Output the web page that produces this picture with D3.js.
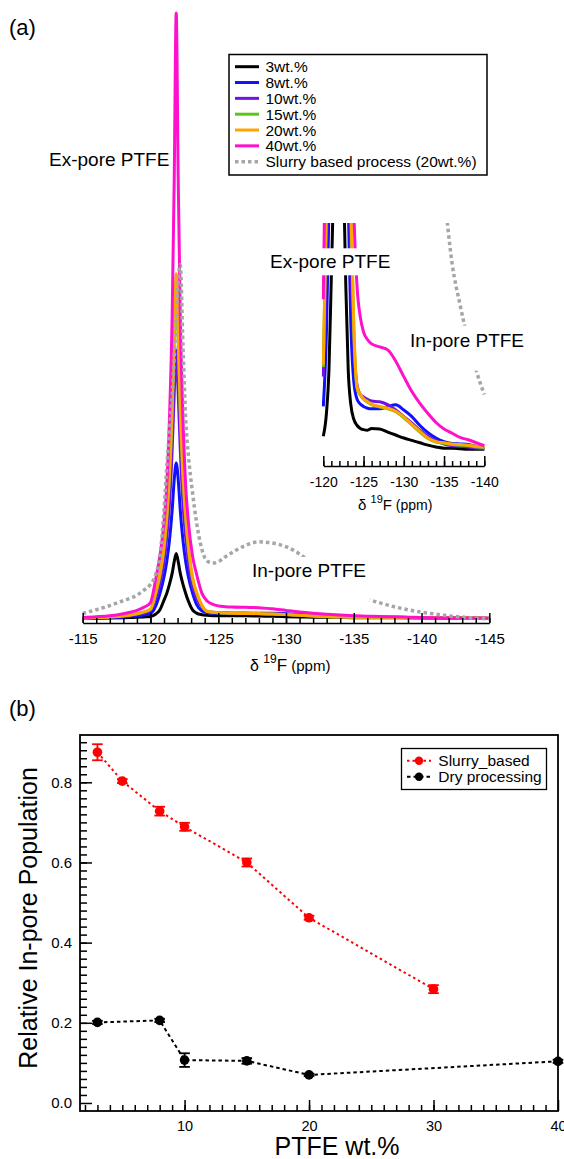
<!DOCTYPE html>
<html><head><meta charset="utf-8">
<script src="https://cdn.jsdelivr.net/npm/d3@7"></script>
<style>
html,body{margin:0;padding:0;background:#fff;}
svg{display:block;font-family:"Liberation Sans",Arial,Helvetica,sans-serif;}
</style></head><body>
<svg id="fig" width="564" height="1159"></svg>
<script>
// ---------- (a) 19F MAS NMR spectra ----------
const shift = [-115,-116,-117,-118,-118.5,-119,-119.5,-120,-120.4,-120.7,-121,-121.2,-121.4,-121.6,-121.75,-121.9,
  -122.05,-122.2,-122.4,-122.6,-122.8,-123.1,-123.4,-123.8,-124.2,-124.6,-125,-125.5,-126,-127,-128,-129,-130,
  -131,-132,-133,-134,-135,-136,-137,-138,-139,-140,-141,-142,-143,-144,-145];

const wt3  = [0.2,0.22,0.25,0.3,0.33,0.37,0.43,0.5,0.9,1.6,3.2,4.3,5.8,7.6,9.5,10.9,
  9.5,7.6,5.8,4.3,3.0,1.6,1.05,0.78,0.68,0.63,0.61,0.6,0.63,0.62,0.57,0.52,0.47,
  0.43,0.39,0.35,0.32,0.3,0.3,0.29,0.28,0.28,0.28,0.25,0.22,0.2,0.18,0.17];
const wt8  = [0.2,0.25,0.3,0.4,0.5,0.6,0.75,1.0,2.3,4.3,7.0,9.5,13,18,23,25.8,
  23,18,13,9.5,7.0,4.4,2.5,1.4,1.12,1.04,1.0,0.97,0.96,0.96,1.0,1.03,0.94,
  0.83,0.68,0.56,0.47,0.41,0.38,0.37,0.36,0.33,0.3,0.27,0.25,0.22,0.2,0.18];
const wt10 = [0.25,0.3,0.38,0.5,0.65,0.8,1.05,1.5,3.6,6.0,9.5,13.5,19,28,37,44.4,
  37,28,19,13.5,9.5,5.5,3.6,2.0,1.35,1.2,1.16,1.12,1.09,1.08,1.03,0.94,0.83,
  0.72,0.6,0.5,0.42,0.37,0.34,0.33,0.32,0.3,0.28,0.26,0.24,0.22,0.2,0.2];
const wt15 = [0.25,0.31,0.41,0.58,0.73,0.93,1.22,1.66,4.4,7.3,11.7,16.6,23.4,34,45.6,55.3,
  45.6,34,23.4,16.6,11.7,6.8,4.4,2.25,1.3,1.19,1.12,1.07,1.03,0.99,0.96,0.91,0.81,
  0.69,0.57,0.46,0.4,0.38,0.36,0.35,0.34,0.32,0.31,0.29,0.27,0.25,0.23,0.22];
const wt20 = [0.25,0.32,0.42,0.6,0.75,0.95,1.25,1.7,4.5,7.5,12,17,24,35,47,57,
  47,35,24,17,12,7,4.5,2.3,1.32,1.2,1.13,1.08,1.04,1.0,0.97,0.92,0.82,
  0.7,0.58,0.47,0.41,0.39,0.37,0.36,0.35,0.33,0.32,0.3,0.27,0.25,0.23,0.22];
const wt40 = [0.35,0.45,0.6,0.95,1.2,1.5,2.0,2.8,6.8,10.5,16,22,33,50,72,100,
  72,50,33,22,16,10.5,7.5,4.3,3.0,2.5,2.25,2.12,2.05,2.0,1.95,1.76,1.5,
  1.25,1.05,0.88,0.73,0.62,0.55,0.48,0.44,0.39,0.34,0.3,0.27,0.25,0.23,0.22];
const slurry20 = [1.0,1.6,2.3,3.1,3.5,4.0,4.8,5.8,7.5,10.5,18,25,31,37,43,50,
  56,58.5,45,33,27,21,16,11.5,9.6,9.3,9.5,10.3,11.0,12.2,12.8,12.6,12.0,
  10.8,9.0,7.3,5.8,4.6,3.4,2.7,2.1,1.6,1.2,0.9,0.6,0.4,0.2,0.1];

const spectraNames = ["3wt.%","8wt.%","10wt.%","15wt.%","20wt.%","40wt.%","Slurry based process (20wt.%)"];
const spectraValues = [wt3, wt8, wt10, wt15, wt20, wt40, slurry20];
const spectraColors = ["#000000","#1010ff","#7014e6","#5ec41a","#ffa500","#ff10cc","#a6a6a6"];

const mainTicks = [-115,-120,-125,-130,-135,-140,-145];
const insetTicks = [-120,-125,-130,-135,-140];

// ---------- (b) relative in-pore population ----------
const wtSlurry  = [3,5,8,10,15,20,30];
const popSlurry = [0.875,0.803,0.728,0.689,0.600,0.462,0.284];
const errSlurry = [0.020,0.005,0.011,0.010,0.010,0.005,0.010];
const wtDry  = [3,8,10,15,20,40];
const popDry = [0.201,0.206,0.107,0.105,0.070,0.104];
const errDry = [0.004,0.004,0.017,0.007,0.003,0.004];
const xTicksB = [10,20,30,40];
const yTicksB = [0.0,0.2,0.4,0.6,0.8];

const svg = d3.select("#fig");
const font = '"Liberation Sans",Arial,Helvetica,sans-serif';
const plainInt = d => String(d);   // hyphen-minus, as in the original labels

// label with an opaque background box
function boxedLabel(g, x, y, txt, size, padL, padT, padR, padB) {
  const grp = g.append("g");
  const t = grp.append("text").attr("x", x).attr("y", y).attr("font-size", size).text(txt);
  const bb = t.node().getBBox();
  grp.insert("rect", "text").attr("x", bb.x - padL).attr("y", bb.y - padT)
    .attr("width", bb.width + padL + padR).attr("height", bb.height + padT + padB).attr("fill", "#fff");
  return grp;
}

// ================= panel (a) =================
const xa = d3.scaleLinear().domain([-115, -145]).range([82.7, 489.3]);
const ya = d3.scaleLinear().domain([0, 100]).range([619.5, 13]);
const axisY = 623;

const gA = svg.append("g");
const lineA = d3.line().x(d => xa(d[0])).y(d => ya(d[1])).curve(d3.curveMonotoneX);

spectraValues.forEach((vals, i) => {
  const pts = shift.map((s, k) => [s, vals[k]]);
  const p = gA.append("path").datum(pts).attr("d", lineA)
    .attr("fill", "none").attr("stroke", spectraColors[i])
    .attr("stroke-width", i === 6 ? 3.5 : 3).attr("stroke-linejoin", "round");
  if (i === 6) p.attr("stroke-dasharray", "3.5,3");
});

// main x axis (ticks point up into the plot)
const minorA = d3.range(-115, -146, -1);
gA.append("g").attr("transform", `translate(0,${axisY})`)
  .call(d3.axisBottom(xa).tickValues(minorA).tickSize(-5).tickSizeOuter(0).tickFormat(""))
  .call(g => g.selectAll("line").attr("stroke-width", 1.5))
  .call(g => g.select(".domain").attr("stroke-width", 1.5));
gA.append("g").attr("transform", `translate(0,${axisY})`)
  .call(d3.axisBottom(xa).tickValues(mainTicks).tickSize(-10).tickSizeOuter(0).tickPadding(10).tickFormat(plainInt))
  .call(g => g.select(".domain").remove())
  .call(g => g.selectAll("line").attr("stroke-width", 1.5))
  .call(g => g.selectAll("text").attr("font-size", 15).attr("font-family", font).attr("fill", "#000"));

const titleA = gA.append("text").attr("x", 250).attr("y", 671).attr("font-size", 16);
titleA.append("tspan").text("δ ");
titleA.append("tspan").attr("font-size", 12).attr("dy", -8).text("19");
titleA.append("tspan").attr("font-size", 17).attr("dy", 8).text("F");
titleA.append("tspan").attr("font-size", 15).text(" (ppm)");

gA.append("text").attr("x", 49).attr("y", 165.7).attr("font-size", 19).text("Ex-pore PTFE");
boxedLabel(gA, 252, 577, "In-pore PTFE", 19, 4, 3, 4, 20);

svg.append("text").attr("x", 9).attr("y", 35).attr("font-size", 22).text("(a)");

// ---------- inset ----------
const xi = d3.scaleLinear().domain([-120, -140]).range([323.3, 484.3]);
const yi = d3.scaleLinear().domain([0, 4.08]).range([466, 223]);
const gI = svg.append("g");
svg.append("defs").append("clipPath").attr("id", "insetClip")
  .append("rect").attr("x", 321.5).attr("y", 223).attr("width", 164.5).attr("height", 250);
const gIc = gI.append("g").attr("clip-path", "url(#insetClip)");
const lineI = d3.line().x(d => xi(d[0])).y(d => yi(d[1])).curve(d3.curveMonotoneX);
spectraValues.forEach((vals, i) => {
  const pts = shift.map((s, k) => [s, vals[k]]).filter(d => d[0] <= -120 && d[0] >= -140);
  const p = gIc.append("path").datum(pts).attr("d", lineI)
    .attr("fill", "none").attr("stroke", spectraColors[i])
    .attr("stroke-width", i === 6 ? 3.5 : 3).attr("stroke-linejoin", "round");
  if (i === 6) p.attr("stroke-dasharray", "3.5,3");
});
gI.append("g").attr("transform", "translate(0,466)")
  .call(d3.axisBottom(xi).tickValues(d3.range(-120, -141, -1)).tickSize(-5).tickSizeOuter(0).tickFormat(""))
  .call(g => g.selectAll("line").attr("stroke-width", 1.5))
  .call(g => g.select(".domain").attr("stroke-width", 1.5));
gI.append("g").attr("transform", "translate(0,466)")
  .call(d3.axisBottom(xi).tickValues(insetTicks).tickSize(-10).tickSizeOuter(0).tickPadding(11).tickFormat(plainInt))
  .call(g => g.select(".domain").remove())
  .call(g => g.selectAll("line").attr("stroke-width", 1.5))
  .call(g => g.selectAll("text").attr("font-size", 14).attr("font-family", font).attr("fill", "#000"));
const titleI = gI.append("text").attr("x", 358).attr("y", 510).attr("font-size", 15);
titleI.append("tspan").text("δ ");
titleI.append("tspan").attr("font-size", 11).attr("dy", -7).text("19");
titleI.append("tspan").attr("font-size", 15).attr("dy", 7).text("F");
titleI.append("tspan").attr("font-size", 14).text(" (ppm)");
boxedLabel(gI, 270, 268.3, "Ex-pore PTFE", 19, 3, 3, 3, 3);
boxedLabel(gI, 410, 346.7, "In-pore PTFE", 19, 4, 4, 4, 20);

// ---------- legend (a) ----------
const legA = svg.append("g");
legA.append("rect").attr("x", 229).attr("y", 54.5).attr("width", 258).attr("height", 120.5)
  .attr("fill", "#fff").attr("stroke", "#000").attr("stroke-width", 1.5);
spectraNames.forEach((n, i) => {
  const cy = 66.7 + i * 15.83;
  const l = legA.append("line").attr("x1", 235).attr("x2", 259).attr("y1", cy).attr("y2", cy)
    .attr("stroke", spectraColors[i]).attr("stroke-width", i === 6 ? 3.5 : 3);
  if (i === 6) l.attr("stroke-dasharray", "3.5,3");
  legA.append("text").attr("x", 265.5).attr("y", cy + 5.5).attr("font-size", 15.5).text(n);
});

// ================= panel (b) =================
const xb = d3.scaleLinear().domain([1.6, 40]).range([80, 558]);
const yb = d3.scaleLinear().domain([-0.02, 0.918]).range([1111, 735]);
const gB = svg.append("g");

svg.append("text").attr("x", 9).attr("y", 716).attr("font-size", 22).text("(b)");

gB.append("g").attr("transform", "translate(0,1111)")
  .call(d3.axisBottom(xb).tickValues(d3.range(2, 40, 1)).tickSize(-6).tickSizeOuter(0).tickFormat(""))
  .call(g => g.select(".domain").remove())
  .call(g => g.selectAll("line").attr("stroke-width", 1.5));
gB.append("g").attr("transform", "translate(0,1111)")
  .call(d3.axisBottom(xb).tickValues(xTicksB).tickSize(-11).tickSizeOuter(0).tickPadding(10).tickFormat(plainInt))
  .call(g => g.select(".domain").remove())
  .call(g => g.selectAll("line").attr("stroke-width", 1.5))
  .call(g => g.selectAll("text").attr("font-size", 14.5).attr("font-family", font).attr("fill", "#000"));
gB.append("g").attr("transform", "translate(80,0)")
  .call(d3.axisLeft(yb).tickValues(d3.range(1, 46).map(k => k * 0.02)).tickSize(-7).tickSizeOuter(0).tickFormat(""))
  .call(g => g.select(".domain").remove())
  .call(g => g.selectAll("line").attr("stroke-width", 1.5));
gB.append("g").attr("transform", "translate(80,0)")
  .call(d3.axisLeft(yb).tickValues(yTicksB).tickSize(-12).tickSizeOuter(0).tickPadding(8).tickFormat(d3.format(".1f")))
  .call(g => g.select(".domain").remove())
  .call(g => g.selectAll("line").attr("stroke-width", 1.5))
  .call(g => g.selectAll("text").attr("font-size", 15).attr("font-family", font).attr("fill", "#000"));

gB.append("rect").attr("x", 80).attr("y", 735).attr("width", 478).attr("height", 376)
  .attr("fill", "none").attr("stroke", "#000").attr("stroke-width", 1.8);

gB.append("text").attr("transform", "translate(37,918) rotate(-90)").attr("text-anchor", "middle")
  .attr("font-size", 25).text("Relative In-pore Population");
gB.append("text").attr("x", 337).attr("y", 1155).attr("text-anchor", "middle")
  .attr("font-size", 25).text("PTFE wt.%");

function drawSeries(xs, ys, es, color, dash) {
  const pts = xs.map((x, i) => [x, ys[i], es[i]]);
  gB.append("path").datum(pts)
    .attr("d", d3.line().x(d => xb(d[0])).y(d => yb(d[1])))
    .attr("fill", "none").attr("stroke", color).attr("stroke-width", 2).attr("stroke-dasharray", dash);
  const eb = gB.append("g").attr("stroke", color).attr("stroke-width", 1.8);
  pts.forEach(d => {
    const cx = xb(d[0]), y1 = yb(d[1] - d[2]), y2 = yb(d[1] + d[2]);
    eb.append("line").attr("x1", cx).attr("x2", cx).attr("y1", y1).attr("y2", y2);
    eb.append("line").attr("x1", cx - 5.3).attr("x2", cx + 5.3).attr("y1", y1).attr("y2", y1);
    eb.append("line").attr("x1", cx - 5.3).attr("x2", cx + 5.3).attr("y1", y2).attr("y2", y2);
  });
  gB.append("g").selectAll("circle").data(pts).join("circle")
    .attr("cx", d => xb(d[0])).attr("cy", d => yb(d[1])).attr("r", 4.8).attr("fill", color);
}
drawSeries(wtSlurry, popSlurry, errSlurry, "#ff0000", "2.5,3");
drawSeries(wtDry, popDry, errDry, "#000000", "3.5,3");

// legend (b)
const legB = svg.append("g");
legB.append("rect").attr("x", 401.5).attr("y", 748.5).attr("width", 145).attr("height", 41)
  .attr("fill", "#fff").attr("stroke", "#000").attr("stroke-width", 1.3);
[["Slurry_based", "#ff0000", "2.5,3"], ["Dry processing", "#000000", "3.5,3"]].forEach((e, i) => {
  const cy = 760.7 + i * 16;
  legB.append("line").attr("x1", 407).attr("x2", 431).attr("y1", cy).attr("y2", cy)
    .attr("stroke", e[1]).attr("stroke-width", 2).attr("stroke-dasharray", e[2]);
  legB.append("circle").attr("cx", 419).attr("cy", cy).attr("r", 4.2).attr("fill", e[1]);
  legB.append("text").attr("x", 438.3).attr("y", cy + 5.5).attr("font-size", 15.5).text(e[0]);
});
</script>
</body></html>
